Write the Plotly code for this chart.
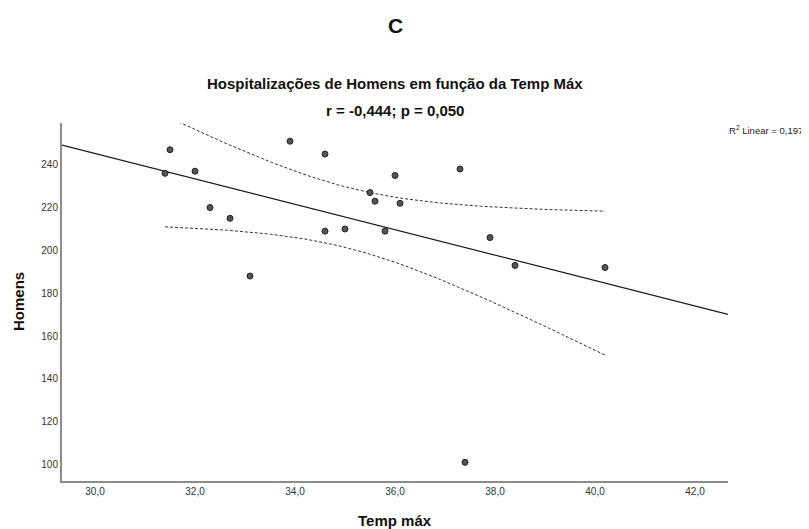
import numpy as np
import plotly.graph_objects as go

# dados
temp_max = [31.4, 31.5, 32.0, 32.3, 32.7, 33.1, 33.9, 34.6, 34.6, 35.0,
            35.5, 35.6, 35.8, 36.0, 36.1, 37.3, 37.4, 37.9, 38.4, 40.2]
homens = [236, 247, 237, 220, 215, 188, 251, 245, 209, 210,
          227, 223, 209, 235, 222, 238, 101, 206, 193, 192]

x_ticks = [30, 32, 34, 36, 38, 40, 42]
y_ticks = [100, 120, 140, 160, 180, 200, 220, 240]
x_range = [29.34, 42.66]
y_range = [92.3, 259.5]

titulo = "Hospitalizações de Homens em função da Temp Máx"
subtitulo = "r = -0,444; p = 0,050"
r2_texto = "R<sup>2</sup> Linear = 0,197"

# ajuste linear e IC 95% da média
x = np.array(temp_max)
y = np.array(homens)
n = len(x)
b, a = np.polyfit(x, y, 1)
resid = y - (a + b * x)
s = np.sqrt(np.sum(resid ** 2) / (n - 2))
sxx = np.sum((x - x.mean()) ** 2)
t_crit = 2.101

xs = np.linspace(x.min(), x.max(), 100)
fit_xs = a + b * xs
half = t_crit * s * np.sqrt(1 / n + (xs - x.mean()) ** 2 / sxx)

x_line = np.array(x_range)

fig = go.Figure()

fig.add_trace(go.Scatter(
    x=xs, y=fit_xs + half, mode="lines",
    line=dict(color="#333333", width=1, dash="3px,2px"),
    hoverinfo="skip"
))
fig.add_trace(go.Scatter(
    x=xs, y=fit_xs - half, mode="lines",
    line=dict(color="#333333", width=1, dash="3px,2px"),
    hoverinfo="skip"
))
fig.add_trace(go.Scatter(
    x=x_line, y=a + b * x_line, mode="lines",
    line=dict(color="#1a1a1a", width=1.2),
    hoverinfo="skip"
))
fig.add_trace(go.Scatter(
    x=temp_max, y=homens, mode="markers",
    marker=dict(size=6, color="#555555", line=dict(color="#222222", width=1)),
))

# a página tem 8px de margem no body
fig.update_layout(
    width=801, height=521,
    margin=dict(l=54, r=81, t=115, b=48),
    plot_bgcolor="white", paper_bgcolor="white",
    showlegend=False,
    separators=",.",
    font=dict(family="Liberation Sans, Arial, sans-serif", color="#222222"),
    xaxis=dict(
        range=x_range, tickvals=x_ticks, tickformat=".1f",
        showgrid=False, zeroline=False, automargin=False,
        showline=True, linecolor="#8c8c8c", linewidth=2,
        ticks="", tickfont=dict(size=10, color="#333333"),
    ),
    yaxis=dict(
        range=y_range, tickvals=y_ticks,
        showgrid=False, zeroline=False, automargin=False,
        showline=True, linecolor="#8c8c8c", linewidth=2,
        ticks="", tickfont=dict(size=10, color="#333333"),
    ),
)

fig.add_annotation(text="<b>Temp máx</b>", xref="paper", yref="paper", x=0.5, y=0,
                   yanchor="middle", yshift=-39, showarrow=False,
                   font=dict(size=15, color="#111111"))
fig.add_annotation(text="<b>Homens</b>", xref="paper", yref="paper", x=0, y=0.5,
                   xanchor="center", xshift=-44, textangle=-90, showarrow=False,
                   font=dict(size=15, color="#111111"))
fig.add_annotation(text="<b>C</b>", xref="paper", yref="paper", x=0.5, y=1,
                   yanchor="middle", yshift=98, showarrow=False,
                   font=dict(size=21, color="#111111"))
fig.add_annotation(text="<b>" + titulo + "</b>", xref="paper", yref="paper", x=0.5, y=1,
                   yanchor="middle", yshift=40, showarrow=False,
                   font=dict(size=15, color="#111111"))
fig.add_annotation(text="<b>" + subtitulo + "</b>", xref="paper", yref="paper", x=0.5, y=1,
                   yanchor="middle", yshift=13, showarrow=False,
                   font=dict(size=15, color="#111111"))
fig.add_annotation(text=r2_texto, xref="paper", yref="paper", x=1, y=1,
                   xanchor="left", yanchor="middle", yshift=-7, xshift=-1, showarrow=False,
                   font=dict(size=9.5, color="#222222"))

fig.write_html("out.html")
